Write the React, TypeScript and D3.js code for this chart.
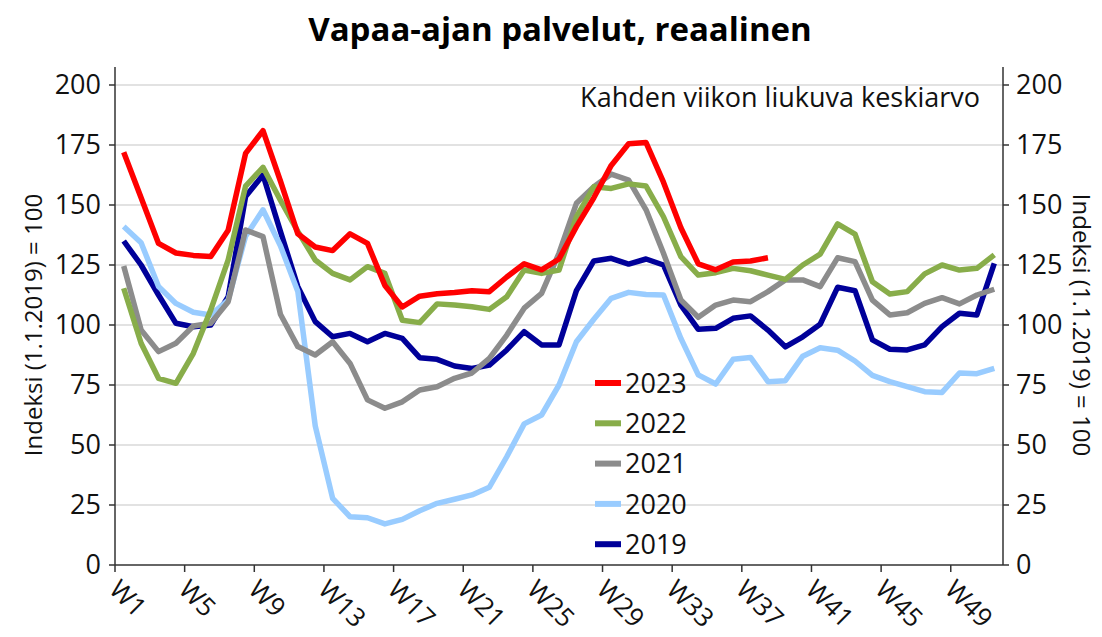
import React from "react";
import * as d3 from "d3";

// weeks W1..W51 (two-week moving average, index 1.1.2019 = 100)
const weeks = d3.range(1, 52).map((n) => "W" + n);
const tickWeeks = weeks.filter((_, i) => i % 4 === 0);
const yTicks = [0, 25, 50, 75, 100, 125, 150, 175, 200];

const s2023 = [
  172, 153, 134, 130, 129, 128.5, 139.5, 171.5, 181, 160, 138, 132.5, 131, 138,
  134, 116.5, 107.5, 112, 113, 113.5, 114.3, 113.9, 120, 125.5, 123, 127.5, 141,
  153, 166.5, 175.5, 176, 159.5, 140.5, 125.5, 123, 126.3, 126.7, 128,
];
const s2022 = [
  115.3, 92.4, 77.8, 75.7, 88.2, 106.3, 127.1, 157.9, 165.7, 152, 139, 127.1,
  121.5, 118.8, 124.3, 121.5, 102, 101, 108.8, 108.3, 107.6, 106.5, 111.8, 122.9,
  121.5, 122.9, 145.1, 157.6, 156.9, 158.8, 157.9, 145.1, 128.5, 120.8, 121.8,
  123.6, 122.6, 120.8, 119, 125, 129.5, 142.1, 137.9, 118, 112.9, 113.9, 121.3,
  125, 122.9, 123.6, 129.2,
];
const s2021 = [
  124.6, 97.9, 88.9, 92.4, 99.6, 100.7, 109.7, 139.6, 136.8, 104.5, 91, 87.5, 93,
  84, 68.8, 65.3, 68, 72.9, 74.3, 77.8, 80, 86.1, 95.8, 107, 113.2, 129.9, 150.7,
  157.6, 162.9, 160.4, 148, 129.9, 110.4, 103.2, 108.3, 110.4, 109.7, 113.9,
  118.8, 118.8, 116, 128, 126.4, 110.4, 104.2, 105.1, 109, 111.4, 108.8, 112.5,
  114.9,
];
const s2020 = [
  141, 134.3, 116, 109, 105.3, 104.2, 110.4, 137, 148, 133, 114, 58, 27.8, 20.1,
  19.7, 17.1, 19, 22.6, 25.7, 27.4, 29.2, 32.4, 45.1, 58.8, 62.5, 75, 93, 102.4,
  111.1, 113.6, 112.7, 112.5, 94.4, 79.2, 75.4, 85.7, 86.5, 76.4, 76.8, 87, 90.5,
  89.5, 85, 79, 76.4, 74.3, 72.2, 71.9, 80, 79.7, 81.9,
];
const s2019 = [
  135, 125, 112.5, 100.7, 99.3, 100, 111.8, 153.5, 162.5, 139, 116, 101.4, 95.1,
  96.5, 93, 96.5, 94.4, 86.4, 85.7, 82.9, 81.9, 83.3, 89.6, 97.2, 91.7, 91.7,
  114.3, 126.7, 127.8, 125.4, 127.5, 125, 108.3, 98.2, 98.6, 102.8, 103.8, 97.9,
  90.9, 95.1, 100.3, 115.7, 114.3, 93.8, 89.9, 89.6, 91.7, 99.3, 104.9, 104.2,
  125.7,
];

// legend order (top to bottom); drawn in reverse so 2023 is on top
const series = [
  { name: "2023", values: s2023, color: "#ff0000" },
  { name: "2022", values: s2022, color: "#88ad4a" },
  { name: "2021", values: s2021, color: "#8c8c8c" },
  { name: "2020", values: s2020, color: "#99ccff" },
  { name: "2019", values: s2019, color: "#000099" },
];

const W = 1102;
const H = 637;
const left = 115;
const right = 1003;
const top = 85;
const bottom = 565;
const font = "'Open Sans', 'Noto Sans', sans-serif";

export default function App() {
  const x = d3.scaleBand<string>().domain(weeks).range([left, right]).padding(0);
  const y = d3.scaleLinear().domain([0, 200]).range([bottom, top]);
  const cx = (w: string) => (x(w) as number) + x.bandwidth() / 2;

  const line = d3
    .line<number>()
    .x((_, i) => cx(weeks[i]))
    .y((d) => y(d));

  return (
    <svg
      width={W}
      height={H}
      style={{ position: "absolute", left: 0, top: 0, background: "#fff" }}
      fontFamily={font}
    >
      <text x={560} y={41} textAnchor="middle" fontSize={33} fontWeight={700} fill="#000">
        Vapaa-ajan palvelut, reaalinen
      </text>

      {/* gridlines */}
      {yTicks.slice(1).map((t) => (
        <line key={t} x1={left} x2={right} y1={y(t)} y2={y(t)} stroke="#d9d9d9" strokeWidth={1.5} />
      ))}

      <text x={980} y={107} textAnchor="end" fontSize={27} fill="#111">
        Kahden viikon liukuva keskiarvo
      </text>

      {/* series lines */}
      {[...series].reverse().map((s) => (
        <path
          key={s.name}
          d={line(s.values) || ""}
          fill="none"
          stroke={s.color}
          strokeWidth={5.5}
          strokeLinejoin="round"
        />
      ))}

      {/* axes */}
      <g stroke="#333" strokeWidth={1.5}>
        <line x1={left} x2={left} y1={top - 18} y2={bottom} />
        <line x1={right} x2={right} y1={top - 18} y2={bottom} />
        <line x1={left} x2={right} y1={bottom} y2={bottom} />
        {yTicks.map((t) => (
          <g key={t}>
            <line x1={left - 6} x2={left} y1={y(t)} y2={y(t)} />
            <line x1={right} x2={right + 6} y1={y(t)} y2={y(t)} />
          </g>
        ))}
        {tickWeeks.map((w) => (
          <line key={w} x1={x(w)} x2={x(w)} y1={bottom} y2={bottom + 7} />
        ))}
      </g>

      {yTicks.map((t) => (
        <g key={t} fontSize={27} fill="#111">
          <text x={101} y={y(t)} dy="0.35em" textAnchor="end">
            {t}
          </text>
          <text x={1016} y={y(t)} dy="0.35em" textAnchor="start">
            {t}
          </text>
        </g>
      ))}

      {tickWeeks.map((w) => (
        <text
          key={w}
          transform={`translate(${cx(w) - 16},${bottom + 26}) rotate(45)`}
          fontSize={26}
          fill="#111"
        >
          {w}
        </text>
      ))}

      <text
        transform={`translate(42,${(top + bottom) / 2}) rotate(-90)`}
        textAnchor="middle"
        fontSize={24}
        fill="#111"
      >
        Indeksi (1.1.2019) = 100
      </text>
      <text
        transform={`translate(1073,${(top + bottom) / 2}) rotate(90)`}
        textAnchor="middle"
        fontSize={24}
        fill="#111"
      >
        Indeksi (1.1.2019) = 100
      </text>

      {/* legend */}
      {series.map((s, i) => (
        <g key={s.name} transform={`translate(595,${383 + i * 40.3})`}>
          <line x1={0} x2={26} y1={0} y2={0} stroke={s.color} strokeWidth={6} />
          <text x={30} y={0} dy="0.36em" fontSize={27} fill="#111">
            {s.name}
          </text>
        </g>
      ))}
    </svg>
  );
}
